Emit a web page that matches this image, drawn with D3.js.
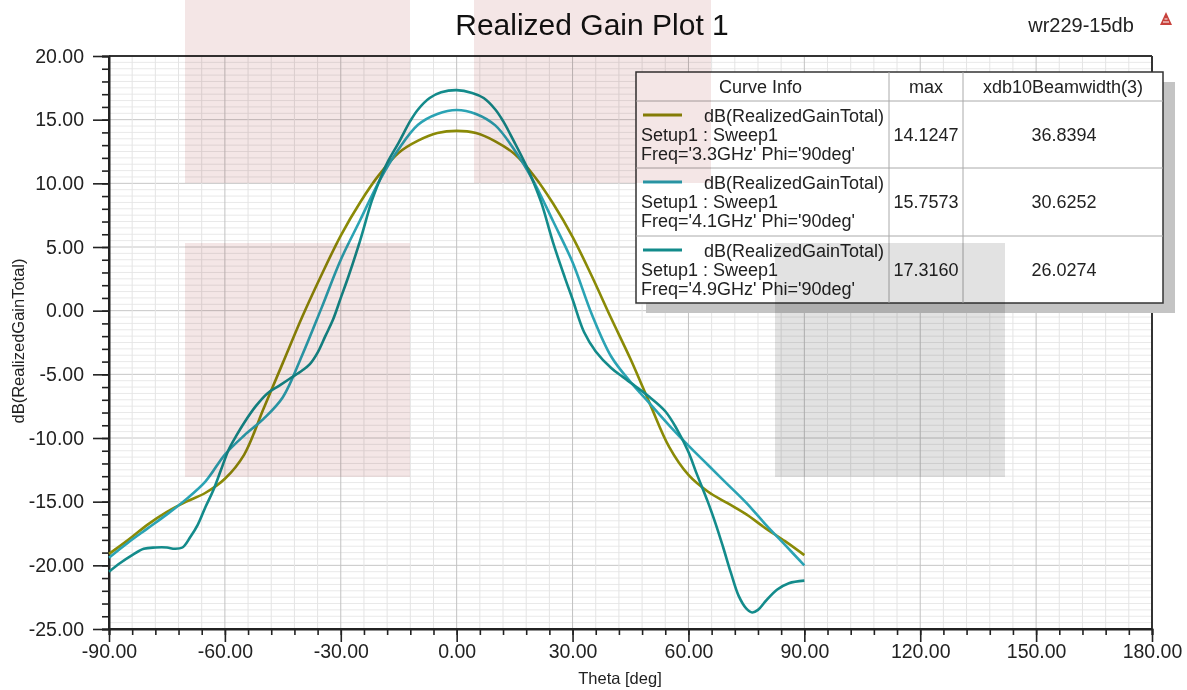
<!DOCTYPE html>
<html>
<head>
<meta charset="utf-8">
<script src="https://cdn.jsdelivr.net/npm/d3@7/dist/d3.min.js"></script>
<style>
  html, body { margin: 0; padding: 0; background: #ffffff; }
  svg { display: block; font-family: "Liberation Sans", Arial, sans-serif; }
</style>
</head>
<body>
<svg id="chart" width="1187" height="690"></svg>
<script>
// ---------- DATA ----------
const xTicks = [-90, -60, -30, 0, 30, 60, 90, 120, 150, 180];
const yTicks = [-25, -20, -15, -10, -5, 0, 5, 10, 15, 20];

const theta33 = [-90,-85,-80,-75,-70,-65,-60,-55,-50,-45,-40,-35,-30,-25,-20,-15,-10,-5,0,5,10,15,20,25,30,35,40,45,50,55,60,65,70,75,80,85,90];
const gain33  = [-19.1,-18.0,-16.8,-15.8,-15.0,-14.3,-13.2,-11.3,-7.7,-4.1,-0.5,2.8,5.9,8.5,10.7,12.4,13.35,13.95,14.12,13.95,13.3,12.3,10.6,8.4,5.8,2.7,-0.6,-3.8,-7.3,-10.7,-12.9,-14.2,-15.1,-16.0,-17.1,-18.1,-19.2];

const theta41 = [-90,-85,-80,-75,-70,-65,-60,-55,-50,-45,-40,-35,-30,-25,-20,-15,-10,-5,0,5,10,15,20,25,30,35,40,45,50,55,60,65,70,75,80,85,90];
const gain41  = [-19.4,-18.2,-17.1,-16.0,-14.8,-13.4,-11.3,-9.8,-8.5,-6.8,-3.5,0.2,4.0,7.1,10.2,12.7,14.6,15.45,15.76,15.45,14.55,12.6,10.1,7.0,3.8,-0.3,-3.6,-5.6,-7.3,-9.0,-10.6,-12.1,-13.6,-15.1,-16.8,-18.4,-20.0];

const theta49 = [-90,-87,-84,-81,-78,-75,-73,-71,-69,-67,-65,-63,-61,-59,-57,-55,-52,-49,-46,-43,-40,-38,-36,-34,-32,-30,-28,-25,-22,-20,-18,-15,-12,-10,-7,-4,0,4,7,10,12,15,18,20,22,25,28,30,33,36,40,43,47,50,54,57,60,62,65,67,69,71,73,75,76.5,78,80,83,86,90];
const gain49  = [-20.5,-19.8,-19.2,-18.7,-18.6,-18.6,-18.7,-18.6,-17.8,-16.8,-15.4,-14.1,-12.5,-10.9,-9.8,-8.8,-7.5,-6.5,-5.9,-5.3,-4.7,-4.2,-3.3,-2.0,-0.7,1.0,2.7,5.5,8.6,10.2,11.6,13.2,14.9,15.8,16.7,17.15,17.32,17.1,16.7,15.8,14.9,13.2,11.4,10.0,8.4,5.3,2.6,0.9,-1.7,-3.2,-4.5,-5.2,-6.1,-6.8,-7.9,-9.3,-11.1,-12.7,-15.0,-16.7,-18.6,-20.6,-22.4,-23.4,-23.7,-23.5,-22.8,-21.9,-21.4,-21.2];

const legendFreqs  = ["3.3GHz", "4.1GHz", "4.9GHz"];
const legendMax    = ["14.1247", "15.7573", "17.3160"];
const legendBeam   = ["36.8394", "30.6252", "26.0274"];
const legendHeader = ["Curve Info", "max", "xdb10Beamwidth(3)"];

// ---------- STYLE / LAYOUT ----------
const colors = ["#8a8a06", "#2aa3b4", "#138b8b"];
const L = 109, R = 1152, T = 56, B = 629;
const FONT = "'Liberation Sans', Arial, sans-serif";
const LFS = "18px";

const svg = d3.select("#chart");
svg.append("rect").attr("width", 1187).attr("height", 690).attr("fill", "#fff");

const x = d3.scaleLinear().domain([-90, 180]).range([L, R]);
const y = d3.scaleLinear().domain([-25, 20]).range([B, T]);

// grid
const grid = svg.append("g");
const vMinor = d3.range(-90, 180.001, 6);
const hMinor = d3.range(-25, 20.001, 0.5);
grid.selectAll("line.hm").data(hMinor).join("line")
  .attr("y1", d => y(d)).attr("y2", d => y(d)).attr("x1", L).attr("x2", R)
  .attr("stroke", d => (Math.abs(d % 5) < 1e-6) ? "#c6c6c6" : "#e9e9e9").attr("stroke-width", 1);
grid.selectAll("line.vm").data(vMinor).join("line")
  .attr("x1", d => x(d)).attr("x2", d => x(d)).attr("y1", T).attr("y2", B)
  .attr("stroke", d => (Math.abs(d % 30) < 1e-6) ? "#c2c2c2" : "#e4e4e4").attr("stroke-width", 1);

// borders top/right
svg.append("line").attr("x1", L).attr("x2", R).attr("y1", T).attr("y2", T).attr("stroke", "#333").attr("stroke-width", 2);
svg.append("line").attr("x1", R).attr("x2", R).attr("y1", T).attr("y2", B).attr("stroke", "#333").attr("stroke-width", 2);

// axes
const f2 = d3.format(".2f");
const fmt = d => f2(d).replace("\u2212", "-");
const axL = svg.append("g").attr("transform", `translate(${L},0)`)
  .call(d3.axisLeft(y).tickValues(yTicks).tickFormat(fmt).tickSize(16).tickPadding(9));
const axLm = svg.append("g").attr("transform", `translate(${L},0)`)
  .call(d3.axisLeft(y).tickValues(d3.range(-25, 20.001, 1)).tickFormat("").tickSize(7));
const axB = svg.append("g").attr("transform", `translate(0,${B})`)
  .call(d3.axisBottom(x).tickValues(xTicks).tickFormat(fmt).tickSize(13).tickPadding(2));
const axBm = svg.append("g").attr("transform", `translate(0,${B})`)
  .call(d3.axisBottom(x).tickValues(d3.range(-90, 180.001, 6)).tickFormat("").tickSize(6));
[axL, axLm, axB, axBm].forEach(a => {
  a.select(".domain").attr("stroke", "#222").attr("stroke-width", 2);
  a.selectAll(".tick line").attr("stroke", "#222").attr("stroke-width", 1.6);
  a.selectAll(".tick text").attr("fill", "#222").style("font-size", "19.5px").style("font-family", FONT);
});
axL.select(".domain").attr("d", `M0,${T}V${B}`);
axB.select(".domain").attr("d", `M${L},0H${R}`);

// curves
const series = [
  { t: theta33, g: gain33 },
  { t: theta41, g: gain41 },
  { t: theta49, g: gain49 }
];
const line = d3.line().x(d => x(d[0])).y(d => y(d[1])).curve(d3.curveCatmullRom.alpha(0.5));
series.forEach((s, i) => {
  const pts = s.t.map((t, k) => [t, s.g[k]]);
  svg.append("path").datum(pts).attr("d", line)
    .attr("fill", "none").attr("stroke", colors[i]).attr("stroke-width", 2.6)
    .attr("stroke-linejoin", "round");
});

// titles
svg.append("text").attr("x", 592).attr("y", 35).attr("text-anchor", "middle")
  .style("font-size", "30px").attr("fill", "#111").text("Realized Gain Plot 1");
svg.append("text").attr("x", 1081).attr("y", 32).attr("text-anchor", "middle")
  .style("font-size", "20px").attr("fill", "#222").text("wr229-15db");
svg.append("text").attr("x", 620).attr("y", 684).attr("text-anchor", "middle")
  .style("font-size", "16.5px").attr("fill", "#222").text("Theta [deg]");
svg.append("text").attr("transform", "translate(24,341) rotate(-90)").attr("text-anchor", "middle")
  .style("font-size", "16.5px").attr("fill", "#222").text("dB(RealizedGainTotal)");

// little logo
const logo = svg.append("g").attr("transform", "translate(1166,19)");
logo.append("path").attr("d", "M0,-7 L6,6 L-6,6 Z").attr("fill", "#c8423c");
logo.append("path").attr("d", "M-3,3 L3,3 M-1.5,0 L1.5,0").attr("stroke", "#fff").attr("stroke-width", 1);

// legend
const lg = svg.append("g");
const LX = 636, LY = 72, LW = 527, LH = 231;
const colX = [636, 889, 963, 1163];
const rowY = [72, 101, 168, 236, 303];
lg.append("rect").attr("x", LX + 10).attr("y", LY + 10).attr("width", LW + 2).attr("height", LH)
  .attr("fill", "#c4c4c4");
lg.append("rect").attr("x", LX).attr("y", LY).attr("width", LW).attr("height", LH)
  .attr("fill", "#fff").attr("stroke", "#333").attr("stroke-width", 1.5);
[1, 2].forEach(c => lg.append("line").attr("x1", colX[c]).attr("x2", colX[c])
  .attr("y1", LY).attr("y2", LY + LH).attr("stroke", "#aaa").attr("stroke-width", 1));
[1, 2, 3].forEach(r => lg.append("line").attr("x1", LX).attr("x2", LX + LW)
  .attr("y1", rowY[r]).attr("y2", rowY[r]).attr("stroke", "#aaa").attr("stroke-width", 1));
legendHeader.forEach((h, c) => lg.append("text")
  .attr("x", (colX[c] + colX[c + 1]) / 2 - (c === 0 ? 2 : 0)).attr("y", 93).attr("text-anchor", "middle")
  .style("font-size", LFS).attr("fill", "#222").text(h));
legendFreqs.forEach((f, i) => {
  const y0 = rowY[i + 1];
  lg.append("line").attr("x1", 643).attr("x2", 682).attr("y1", y0 + 14).attr("y2", y0 + 14)
    .attr("stroke", colors[i]).attr("stroke-width", 3);
  lg.append("text").attr("x", 884).attr("y", y0 + 21).attr("text-anchor", "end")
    .style("font-size", LFS).attr("fill", "#222").text("dB(RealizedGainTotal)");
  lg.append("text").attr("x", 641).attr("y", y0 + 40)
    .style("font-size", LFS).attr("fill", "#222").text("Setup1 : Sweep1");
  lg.append("text").attr("x", 641).attr("y", y0 + 59)
    .style("font-size", LFS).attr("fill", "#222").text(`Freq='${f}' Phi='90deg'`);
  lg.append("text").attr("x", 926).attr("y", y0 + 40).attr("text-anchor", "middle")
    .style("font-size", LFS).attr("fill", "#222").text(legendMax[i]);
  lg.append("text").attr("x", 1064).attr("y", y0 + 40).attr("text-anchor", "middle")
    .style("font-size", LFS).attr("fill", "#222").text(legendBeam[i]);
});

// translucent overlay patches seen in the reference
const patches = svg.append("g");
[[185, 0, 225, 183, "#f4e6e6"], [185, 243, 225, 234, "#f4e6e6"], [474, 0, 237, 183, "#f4e6e6"], [775, 243, 230, 234, "#e2e2e2"]]
  .forEach(p => patches.append("rect").attr("x", p[0]).attr("y", p[1]).attr("width", p[2]).attr("height", p[3])
    .attr("fill", p[4]).style("mix-blend-mode", "multiply"));
</script>
</body>
</html>
